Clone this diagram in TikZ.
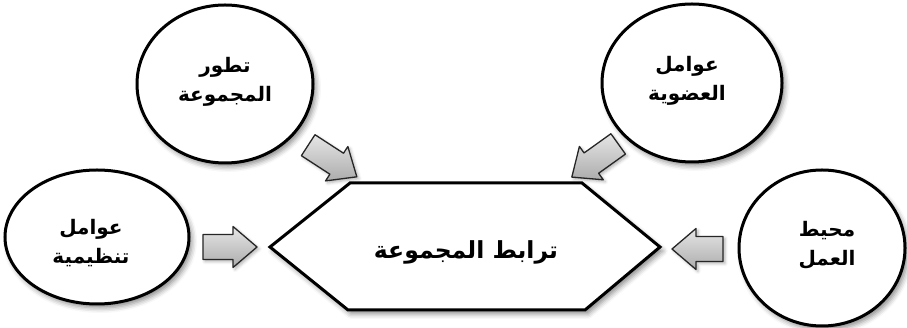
\documentclass[tikz,border=0pt]{standalone}
\usepackage{fontspec}
\newfontfamily\arabicfont[Script=Arabic]{DejaVu Sans}
\TeXXeTstate=1
\usetikzlibrary{shadows.blur}
\tikzset{
  circ/.style={draw=black, line width=3pt, fill=white},
  circtext/.style={font=\arabicfont\bfseries\fontsize{20}{29}\selectfont, align=center, inner sep=0pt},
  softshadow/.style={blur shadow={shadow xshift=3pt, shadow yshift=-4pt, shadow blur radius=5pt, shadow opacity=45}},
  arrowfill/.style={draw=black!85, line width=1.3pt, line join=round, top color=gray!20, bottom color=gray!65},
}
\newcommand\blockarr[4]{%
  \begin{scope}[shift={(#1,#2)}, rotate=#3]
    \path[arrowfill, blur shadow={shadow xshift=2pt, shadow yshift=-2pt, shadow blur radius=3pt, shadow opacity=30}]
      (-#4/2,-12.5) -- (#4/2-24,-12.5) -- (#4/2-24,-20.5) -- (#4/2,0)
      -- (#4/2-24,20.5) -- (#4/2-24,12.5) -- (-#4/2,12.5) -- cycle;
  \end{scope}}
\begin{document}
\begin{tikzpicture}[x=1pt, y=1pt]
\useasboundingbox (0,0) rectangle (907,328);
% circles
\path[circ, softshadow] (97,91) ellipse [x radius=92, y radius=67];
\path[circ, softshadow] (225,244) ellipse [x radius=88, y radius=79];
\path[circ, softshadow] (692,245) ellipse [x radius=90, y radius=79];
\path[circ, softshadow] (822,80) ellipse [x radius=83, y radius=78];
% hexagon
\path[draw=black, line width=3pt, line join=miter, fill=white, softshadow]
  (270,81) -- (350,145) -- (582,145) -- (660,81) -- (585,18) -- (348,18) -- cycle;
% texts
\node[circtext] (orgfac) at (91,85) {\beginR عوامل\endR\\\beginR تنظيمية\endR};
\node[circtext] (grpdev) at (225,246) {\beginR تطور\endR\\\beginR المجموعة\endR};
\node[circtext] (memfac) at (687,247) {\beginR عوامل\endR\\\beginR العضوية\endR};
\node[circtext] (workenv) at (827,83) {\beginR محيط\endR\\\beginR العمل\endR};
\node[font=\arabicfont\bfseries\fontsize{23.5}{28}\selectfont, inner sep=0pt] (cohesion) at (466,76) {\beginR ترابط المجموعة\endR};
% block arrows
\blockarr{230}{81}{0}{54}
\blockarr{697.5}{79}{180}{51}
\blockarr{332.5}{167}{-33}{58}
\blockarr{595}{167.5}{-144.4}{57}
\end{tikzpicture}
\end{document}
